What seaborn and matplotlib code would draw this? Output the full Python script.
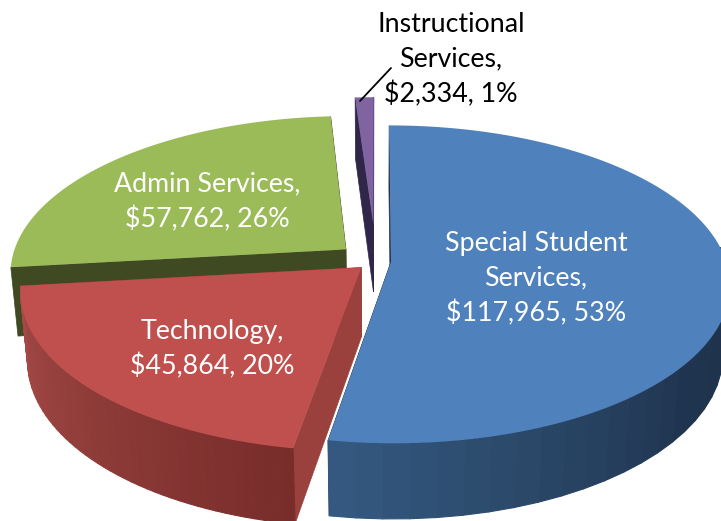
import numpy as np
import matplotlib.pyplot as plt
import seaborn as sns
from matplotlib.collections import PolyCollection

categories = ["Special Student\nServices", "Technology", "Admin Services", "Instructional\nServices"]
values = [117965, 45864, 57762, 2334]

top_colors = ["#4F81BD", "#C0504D", "#9BBB59", "#8064A2"]
cut_colors = ["#1F344E", "#9A403D", "#3F4A22", "#30264A"]
side_light = ["#34587F", "#A64A47", "#3F4A22", "#30264A"]
side_dark = ["#1D3048", "#782D2B", "#3F4A22", "#30264A"]
side_mid = ["#1F344E", "#8F3C39", "#3F4A22", "#30264A"]
text_colors = ["white", "white", "white", "black"]
explode = [0.045, 0.06, 0.118, 0.24]
label_x = [536, 212, 207, 451]
label_y = [279, 349, 202, 60]

# pie position + fake 3d camera, all in pixels
cx, cy = 376, 261
rx, ry = 335, 155.5
height = 70
k_far, k_down = 0.143, 0.02


def project(u, v, z):
    w = 1 + k_far * v + k_down * z
    return cx + rx * u / w, cy + (height * z - ry * v) / w


def rim(start, stop, off, z, n=120):
    a = np.radians(np.linspace(start, stop, n))
    u = np.sin(a) + off[0]
    v = np.cos(a) + off[1]
    return np.column_stack(project(u, v, z))


def quad(p0, p1):
    return [project(*p0, 0), project(*p1, 0), project(*p1, 1), project(*p0, 1)]


sns.set_theme(style="white")
plt.rcParams["font.family"] = ["Lato", "DejaVu Sans"]

fig = plt.figure(figsize=(7.21, 5.21), dpi=100)
ax = fig.add_axes([0, 0, 1, 1])
ax.set_xlim(0, 721)
ax.set_ylim(521, 0)
ax.axis("off")

total = sum(values)
sweeps = [v / total * 360 for v in values]
starts = np.concatenate([[0], np.cumsum(sweeps)[:-1]])

# back slices first, red goes last because it sits over the green cut
for i in [2, 3, 0, 1]:
    start, sweep = starts[i], sweeps[i]
    stop = start + sweep
    mid = np.radians(start + sweep / 2)
    off = (explode[i] * np.sin(mid), explode[i] * np.cos(mid))

    for ang in (start, stop):
        a = np.radians(ang)
        edge = (off[0] + np.sin(a), off[1] + np.cos(a))
        ax.fill(*zip(*quad(off, edge)), color=cut_colors[i], lw=0.5, zorder=1)

    # outer wall in wide bands so the gradient doesn't moire
    # only the front of the wall shows, green and purple have none
    if i < 2:
        angs = np.linspace(start, stop, 48)
        top = rim(start, stop, off, 0, n=48)
        bot = rim(start, stop, off, 1, n=48)
        polys = [[top[j], top[j + 1], bot[j + 1], bot[j]] for j in range(len(top) - 1)]
        stops = [side_dark[i], side_mid[i], side_light[i]] if i == 1 else [side_dark[i], side_dark[i], side_mid[i], side_light[i]]
        shades = sns.blend_palette(stops, len(polys))
        front = [j for j in range(len(polys)) if np.cos(np.radians(angs[j])) < 0.1]
        ax.add_collection(PolyCollection([polys[j] for j in front], facecolors=[shades[j] for j in front],
                                          edgecolors=[shades[j] for j in front], linewidths=0.8, zorder=1))

    apex = np.array(project(*off, 0))
    ax.fill(*np.vstack([apex, rim(start, stop, off, 0)]).T, color=top_colors[i], lw=0, zorder=1)

for i, name in enumerate(categories):
    pct = round(values[i] / total * 100)
    ax.text(label_x[i], label_y[i], f"{name},\n${values[i]:,}, {pct}%", color=text_colors[i],
            fontsize=19.3, ha="center", va="center", linespacing=1.46, zorder=5)

# leader line for the small slice
ax.plot([391, 360], [68, 101], color="black", lw=1.3, zorder=5)

plt.savefig("out.png", dpi=100)
